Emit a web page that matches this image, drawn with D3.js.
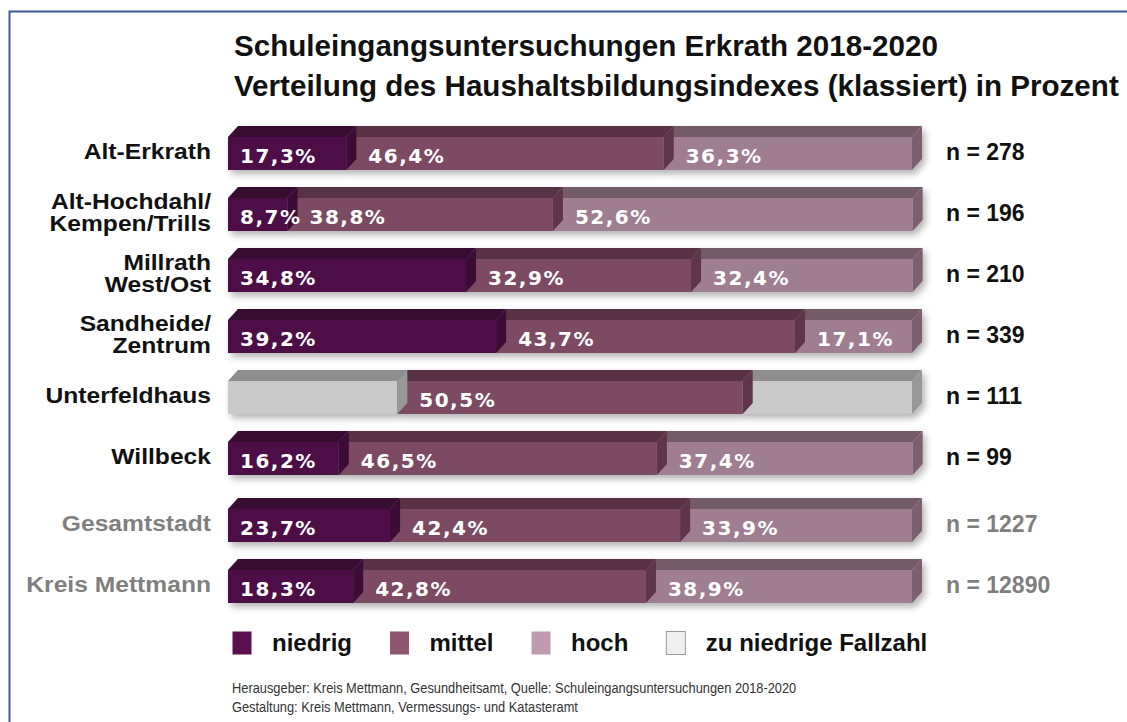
<!DOCTYPE html>
<html>
<meta charset="utf-8">
<style>
 body { margin: 0; background: #fff; }
 .title { font-family: "Liberation Sans", Arial, sans-serif; font-weight: bold; font-size: 29.6px; fill: #111; }
 .lbl { font-family: "Liberation Sans", Arial, sans-serif; font-weight: bold; font-size: 22px; }
 .nlbl { font-family: "Liberation Sans", Arial, sans-serif; font-weight: bold; font-size: 23px; }
 .leg { font-family: "Liberation Sans", Arial, sans-serif; font-weight: bold; font-size: 24px; fill: #111; }
 .pct { font-family: "DejaVu Sans", Verdana, sans-serif; font-weight: bold; font-size: 20px; fill: #fff; letter-spacing: 1.5px; }
 .foot { font-family: "Liberation Sans", Arial, sans-serif; font-size: 15px; fill: #333; }
</style>
<body>
<script src="https://d3js.org/d3.v7.min.js"></script>
<script>

var width = 1127
var height = 722

// data
var areas = ["Alt-Erkrath", "Alt-Hochdahl/\nKempen/Trills", "Millrath\nWest/Ost", "Sandheide/\nZentrum",
             "Unterfeldhaus", "Willbeck", "Gesamtstadt", "Kreis Mettmann"];
var niedrig = [17.3, 8.7, 34.8, 39.2, null, 16.2, 23.7, 18.3];
var mittel  = [46.4, 38.8, 32.9, 43.7, 50.5, 46.5, 42.4, 42.8];
var hoch    = [36.3, 52.6, 32.4, 17.1, null, 37.4, 33.9, 38.9];
var counts  = [278, 196, 210, 339, 111, 99, 1227, 12890];
var refRows = ["Gesamtstadt", "Kreis Mettmann"];
var levels = ["niedrig", "mittel", "hoch"];
var legendLabels = ["niedrig", "mittel", "hoch", "zu niedrige Fallzahl"];

// colours: front, top, side
var faces = {
  niedrig: ["#4d0f47", "#380a33", "#3a0b35"],
  mittel:  ["#7b4b63", "#583345", "#5e3448"],
  hoch:    ["#a07e92", "#735b68", "#7a6070"],
  gray:    ["#c9c9c9", "#8e8e8e", "#989898"]
};
var legendColors = ["#5a1050", "#8e566f", "#c09aae", "#efefef"];

var depthX = 10, depthY = 11, frontH = 33;

var svg = d3.select("body")
  .append("svg")
  .attr("width", width)
  .attr("height", height);

var defs = svg.append("defs");
var f = defs.append("filter").attr("id", "shadow")
  .attr("x", "-5%").attr("y", "-40%").attr("width", "110%").attr("height", "180%");
f.append("feDropShadow").attr("dx", 3).attr("dy", 4).attr("stdDeviation", 3.5)
  .attr("flood-color", "#000").attr("flood-opacity", 0.3);

// frame
svg.append("rect")
  .attr("x", 9.5).attr("y", 11.5).attr("width", 1140).attr("height", 730)
  .attr("fill", "none").attr("stroke", "#3d5a98").attr("stroke-width", 2);

// title
svg.append("text").attr("class", "title").attr("x", 234).attr("y", 56)
  .text("Schuleingangsuntersuchungen Erkrath 2018-2020");
svg.append("text").attr("class", "title").attr("x", 234).attr("y", 96)
  .text("Verteilung des Haushaltsbildungsindexes (klassiert) in Prozent");

var x = d3.scaleLinear().domain([0, 100]).range([228, 912]);
var y = d3.scaleBand().domain(areas).range([126, 126 + areas.length * 61]);
var refGap = 6;

function rowTop(name) {
  return y(name) + (refRows.indexOf(name) >= 0 ? refGap : 0);
}

var fmt = function (v) { return d3.format(".1f")(v).replace(".", ",") + "%"; };

var rows = areas.map(function (name, i) {
  var vals = [niedrig[i], mittel[i], hoch[i]];
  var known = d3.sum(vals.filter(function (v) { return v != null; }));
  var nMissing = vals.filter(function (v) { return v == null; }).length;
  var acc = 0;
  var segs = vals.map(function (v, j) {
    var w = v == null ? (100 - known) / nMissing : v;
    var s = { key: v == null ? "gray" : levels[j], value: v, x0: acc, x1: acc + w, idx: j };
    acc += w;
    return s;
  });
  return { name: name, n: counts[i], segs: segs, ref: refRows.indexOf(name) >= 0 };
});

var rowG = svg.selectAll("g.row")
  .data(rows)
  .enter()
  .append("g")
  .attr("class", "row")
  .attr("transform", function (d) { return "translate(0," + (rowTop(d.name) + depthY) + ")"; });

// the 3D blocks, drawn right to left so each side face lies on the next front
var blocks = rowG.append("g").attr("filter", "url(#shadow)");
blocks.each(function (d) {
  var g = d3.select(this);
  d.segs.slice().reverse().forEach(function (s) {
    var a = x(s.x0), b = x(s.x1), c = faces[s.key];
    g.append("rect").attr("x", a).attr("y", 0).attr("width", b - a).attr("height", frontH).attr("fill", c[0]);
    g.append("polygon")
      .attr("points", [[a, 0], [a + depthX, -depthY], [b + depthX, -depthY], [b, 0]].join(" "))
      .attr("fill", c[1]);
    g.append("polygon")
      .attr("points", [[b, 0], [b + depthX, -depthY], [b + depthX, frontH - depthY], [b, frontH]].join(" "))
      .attr("fill", c[2]);
  });
});

// percentages
rowG.selectAll("text.pct")
  .data(function (d) { return d.segs.filter(function (s) { return s.value != null; }); })
  .enter()
  .append("text")
  .attr("class", "pct")
  .attr("x", function (s) { return x(s.x0) + (s.idx === 0 ? 12 : 22); })
  .attr("y", 26)
  .text(function (s) { return fmt(s.value); });

// row labels (type is a bit wide in the reference)
rowG.append("g")
  .attr("transform", "translate(211,0) scale(1.12,1)")
  .append("text")
  .attr("class", "lbl")
  .attr("text-anchor", "end")
  .attr("fill", function (d) { return d.ref ? "#7f7f7f" : "#111"; })
  .each(function (d) {
    var lines = d.name.split("\n");
    var t = d3.select(this);
    lines.forEach(function (l, k) {
      t.append("tspan").attr("x", 0)
        .attr("y", 22 + (k - (lines.length - 1) / 2) * 23)
        .text(l);
    });
  });

// n labels
rowG.append("text")
  .attr("class", "nlbl")
  .attr("x", 946)
  .attr("y", 23)
  .attr("fill", function (d) { return d.ref ? "#7f7f7f" : "#111"; })
  .text(function (d) { return "n = " + d.n; });

// legend
var lx = 232;
legendLabels.forEach(function (l, i) {
  var g = svg.append("g").attr("transform", "translate(" + lx + ",631)");
  g.append("rect").attr("x", 0.5).attr("y", 0.5).attr("width", 19).attr("height", 23)
    .attr("fill", legendColors[i])
    .attr("stroke", i === 3 ? "#9a9a9a" : "none");
  var t = g.append("text").attr("class", "leg").attr("x", 40).attr("y", 20).text(l);
  lx += 40 + t.node().getComputedTextLength() + 37.5;
});

// footer (narrow type in the reference)
var foot = svg.append("g").attr("transform", "translate(232,0) scale(0.856,1)");
foot.selectAll("text.foot")
  .data(["Herausgeber: Kreis Mettmann, Gesundheitsamt, Quelle: Schuleingangsuntersuchungen 2018-2020",
         "Gestaltung: Kreis Mettmann, Vermessungs- und Katasteramt"])
  .enter()
  .append("text")
  .attr("class", "foot")
  .attr("x", 0)
  .attr("y", function (d, i) { return 693 + i * 19; })
  .text(function (d) { return d; });

</script>
</body>
</html>
